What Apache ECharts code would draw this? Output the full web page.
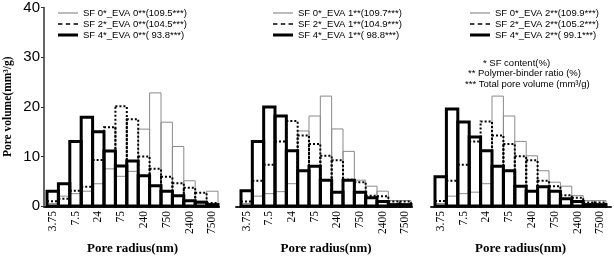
<!DOCTYPE html>
<html>
<head>
<meta charset="utf-8">
<script src="https://cdn.jsdelivr.net/npm/echarts@6/dist/echarts.min.js"></script>
<style>
  html, body { margin: 0; padding: 0; background: #fff; }
  #chart { width: 614px; height: 260px; }
</style>
</head>
<body>
<div id="chart"></div>
<script>
// pore radius bins (nm); only every other one is labelled on the axis
const radius = ['3.75', '5', '7.5', '15', '24', '40', '75', '150', '240', '400', '750', '1500', '2400', '4000', '7500'];
const yTicks = [0, 10, 20, 30, 40];

// EVA 0 panel
const sf0_eva0 = [0.5, 2.0, 2.5, 3.0, 4.5, 7.5, 6.0, 7.0, 15.5, 22.8, 16.9, 12.0, 5.1, 1.0, 3.0];
const sf2_eva0 = [1.0, 1.5, 3.1, 3.9, 9.3, 15.9, 20.1, 17.5, 10.0, 7.5, 5.9, 4.6, 3.7, 2.7, 0.6];
const sf4_eva0 = [3.0, 4.5, 13.0, 17.9, 15.0, 11.1, 8.1, 9.1, 6.1, 4.1, 3.0, 2.1, 1.1, 0.8, 0.3];
// EVA 1 panel
const sf0_eva1 = [0.5, 2.0, 2.5, 2.9, 4.5, 15.1, 18.1, 22.1, 15.5, 11.0, 5.2, 4.0, 3.0, 1.1, 1.1];
const sf2_eva1 = [0.9, 5.1, 8.3, 13.0, 17.1, 14.2, 12.5, 10.1, 9.2, 5.3, 4.8, 2.1, 2.0, 0.9, 0.9];
const sf4_eva1 = [3.1, 13.0, 19.9, 18.1, 11.1, 7.1, 8.0, 5.2, 2.8, 5.2, 2.8, 1.7, 0.9, 0.3, 0.3];
// EVA 2 panel
const sf0_eva2 = [0.5, 2.0, 2.5, 2.8, 4.5, 22.1, 18.1, 13.0, 10.1, 7.1, 4.8, 4.0, 2.1, 1.1, 1.1];
const sf2_eva2 = [1.0, 5.1, 8.3, 13.0, 17.0, 14.2, 12.5, 10.0, 9.2, 5.1, 4.0, 2.2, 1.7, 0.7, 0.7];
const sf4_eva2 = [5.9, 19.5, 16.9, 13.9, 11.1, 8.0, 7.1, 4.0, 3.0, 3.9, 3.0, 1.5, 0.9, 0.3, 0.3];

const names = [
    ['SF 0*_EVA 0**(109.5***)', 'SF 2*_EVA 0**(104.5***)', 'SF 4*_EVA 0**( 93.8***)'],
    ['SF 0*_EVA 1**(109.7***)', 'SF 2*_EVA 1**(104.9***)', 'SF 4*_EVA 1**( 98.8***)'],
    ['SF 0*_EVA 2**(109.9***)', 'SF 2*_EVA 2**(105.2***)', 'SF 4*_EVA 2**( 99.1***)'],
];
const panelData = [
    [sf0_eva0, sf2_eva0, sf4_eva0],
    [sf0_eva1, sf2_eva1, sf4_eva1],
    [sf0_eva2, sf2_eva2, sf4_eva2],
];
const notes = ['* SF content(%)', '** Polymer-binder ratio (%)', '*** Total pore volume (mm\u00b3/g)'];

// plot areas (bins) and the slightly longer baselines drawn under them
const grids = [
    { left: 47, width: 171 },
    { left: 241, width: 170 },
    { left: 435, width: 171 },
];
const baseLines = [
    { left: 44, width: 175 },
    { left: 236, width: 176 },
    { left: 431, width: 180 },
];
const legendLeft = [58, 273, 470];

// thin grey, dotted black, thick black
const styles = [
    { color: '#8a8a8a', width: 1, dash: null },
    { color: '#000', width: 2, dash: [2, 2] },
    { color: '#000', width: 3, dash: null },
];
const icons = [
    'path://M0,0H20V1H0Z',
    'path://M0,0H4V1.3H0Z M7,0H11V1.3H7Z M14,0H18V1.3H14Z',
    'path://M0,0H20V3H0Z',
];

// open box per bin, stroke centred on the bin edges so neighbours share a side
function binRenderer(st) {
    return function (params, api) {
        const top = api.coord([api.value(0), api.value(1)]);
        const base = api.coord([api.value(0), 0]);
        const w = api.size([1, 0])[0];
        return {
            type: 'rect',
            shape: { x: top[0] - w / 2, y: top[1], width: w, height: base[1] - top[1] },
            style: { fill: 'none', stroke: st.color, lineWidth: st.width, lineDash: st.dash },
        };
    };
}

const chart = echarts.init(document.getElementById('chart'), null, { renderer: 'canvas' });

const series = [];
panelData.forEach((arrs, p) => {
    arrs.forEach((vals, i) => {
        series.push({
            type: 'custom',
            name: names[p][i],
            xAxisIndex: p,
            yAxisIndex: p,
            data: vals.map((v, k) => [k, v]),
            encode: { x: 0, y: 1 },
            silent: true,
            z: 3,
            itemStyle: { color: styles[i].color },
            renderItem: binRenderer(styles[i]),
        });
    });
});

const gridList = grids.map(g => ({ left: g.left, width: g.width, top: 7, height: 200 }))
    .concat(baseLines.map(g => ({ left: g.left, width: g.width, top: 7, height: 200 })));

const xAxes = [0, 1, 2].map(p => ({
    type: 'category',
    gridIndex: p,
    data: radius,
    axisLine: { show: false },
    axisTick: { show: false },
    axisLabel: {
        interval: 1,
        rotate: 90,
        margin: 5,
        fontFamily: 'Liberation Serif',
        fontSize: 11.5,
        color: '#000',
    },
    name: 'Pore radius(nm)',
    nameLocation: 'middle',
    nameGap: 30,
    nameTextStyle: { fontFamily: 'Liberation Serif', fontWeight: 'bold', fontSize: 13, color: '#000' },
})).concat([0, 1, 2].map(p => ({
    type: 'value',
    gridIndex: 3 + p,
    min: 0,
    max: 1,
    axisLine: { show: true, onZero: false, lineStyle: { color: '#222', width: 2 } },
    axisTick: { show: false },
    axisLabel: { show: false },
    splitLine: { show: false },
})));

const yAxes = [0, 1, 2].map(p => ({
    type: 'value',
    gridIndex: p,
    min: yTicks[0],
    max: yTicks[yTicks.length - 1],
    interval: 10,
    show: p === 0,
    offset: 3,
    axisLine: { show: true, lineStyle: { color: '#333', width: 1.5 } },
    axisTick: { show: true, length: 3, lineStyle: { color: '#333' } },
    splitLine: { show: false },
    axisLabel: { fontFamily: 'Liberation Sans', fontSize: 15, color: '#000', margin: 4 },
    name: p === 0 ? 'Pore volume(mm\u00b3/g)' : '',
    nameLocation: 'middle',
    nameGap: 30,
    nameTextStyle: { fontFamily: 'Liberation Serif', fontWeight: 'bold', fontSize: 11.5, color: '#000' },
})).concat([0, 1, 2].map(p => ({
    type: 'value',
    gridIndex: 3 + p,
    min: 0,
    max: 1,
    show: false,
})));

const option = {
    animation: false,
    backgroundColor: '#fff',
    grid: gridList,
    legend: [0, 1, 2].map(p => ({
        orient: 'vertical',
        left: legendLeft[p],
        top: 8,
        padding: 0,
        itemWidth: 20,
        itemHeight: 10,
        itemGap: 1,
        symbolKeepAspect: true,
        selectedMode: false,
        textStyle: { fontFamily: 'Liberation Sans', fontSize: 9.5, color: '#000' },
        data: names[p].map((n, i) => ({
            name: n,
            icon: icons[i],
            itemStyle: { color: i === 0 ? '#777' : '#000', borderWidth: 0 },
        })),
    })),
    xAxis: xAxes,
    yAxis: yAxes,
    graphic: notes.map((t, i) => ({
        type: 'text',
        left: [483, 468, 465][i],
        top: 58 + i * 10.5,
        silent: true,
        style: { text: t, font: '9.5px "Liberation Sans"', fill: '#000' },
    })),
    series: series,
};

chart.setOption(option);
</script>
</body>
</html>
